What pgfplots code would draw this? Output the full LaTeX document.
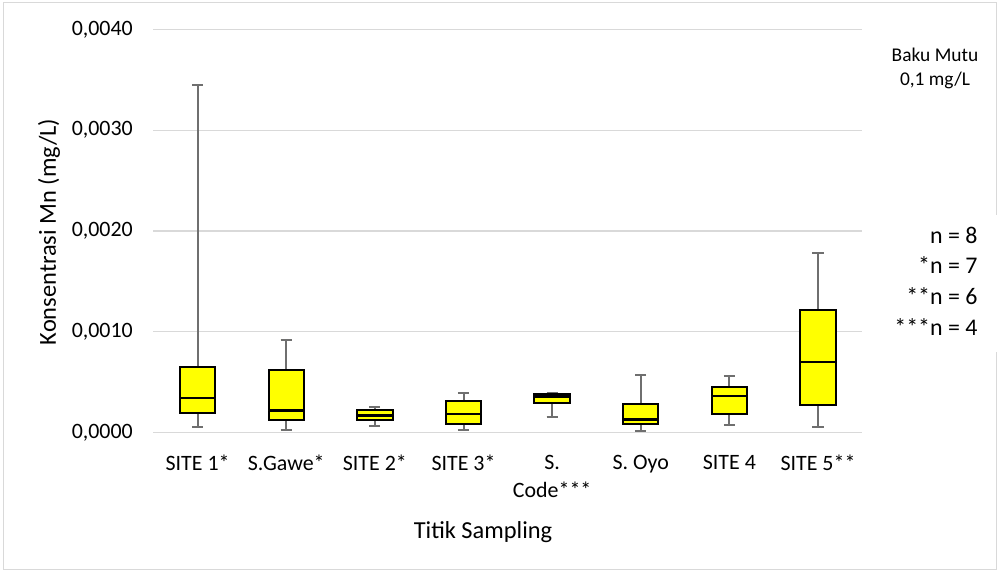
\documentclass[border=0pt]{standalone}
\usepackage{fontspec}
\setmainfont{Carlito}
\usepackage{pgfplots}
\pgfplotsset{compat=1.18}
\usepgfplotslibrary{statistics}

\definecolor{gridgray}{HTML}{D9D9D9}
\definecolor{whiskgray}{HTML}{6F6F6F}
\definecolor{boxyellow}{HTML}{FFFF00}

% five-number summaries in ug/L (= mg/L x 1000):
% lower whisker, Q1, median, Q3, upper whisker
\newcommand{\mnbox}[6]{%
  \addplot[draw=black, fill=boxyellow, line width=2bp,
    boxplot prepared={draw position=#1,
      lower whisker=#2, lower quartile=#3, median=#4,
      upper quartile=#5, upper whisker=#6}] coordinates {};}

\begin{document}
\begin{tikzpicture}[x=1bp,y=1bp]
\useasboundingbox (0,0) rectangle (997,571);
% chart frame
\draw[gridgray, line width=1bp] (3.5,1) rectangle (996,568);
\begin{axis}[
  at={(173,137.5)}, anchor=south west,
  scale only axis, width=709bp, height=403bp,
  xmin=0.5, xmax=8.5, ymin=0, ymax=4,
  xtick={1,...,8},
  xticklabels={SITE 1*, S.Gawe*, SITE 2*, SITE 3*, {S.\\Code***}, S. Oyo, SITE 4, SITE 5**},
  ytick={0,1,2,3,4},
  yticklabels={{0,0000}, {0,0010}, {0,0020}, {0,0030}, {0,0040}},
  every tick label/.append style={font=\fontsize{22}{28}\selectfont},
  xticklabel style={align=center, anchor=north, yshift=-19bp},
  yticklabel style={anchor=east, xshift=-17bp},
  axis line style={draw=none},
  major tick length=0pt,
  ymajorgrids,
  grid style={gridgray, line width=1.2bp},
  boxplot/draw direction=y,
  boxplot/box extend=0.4,
  boxplot/whisker extend=0.125,
  boxplot/every median/.style={draw=black, line width=2.4bp},
  boxplot/every whisker/.style={draw=whiskgray, line width=2bp},
  clip=false,
]
\mnbox{1}{0.0566}{0.195}{0.340}{0.648}{3.444}
\mnbox{2}{0.0200}{0.126}{0.218}{0.622}{0.920}
\mnbox{3}{0.0629}{0.119}{0.169}{0.222}{0.248}
\mnbox{4}{0.0230}{0.0794}{0.185}{0.311}{0.394}
\mnbox{5}{0.156}{0.291}{0.357}{0.380}{0.390}
\mnbox{6}{0.0166}{0.0824}{0.129}{0.281}{0.569}
\mnbox{7}{0.0728}{0.179}{0.360}{0.447}{0.563}
\mnbox{8}{0.0496}{0.271}{0.698}{1.211}{1.777}
\end{axis}
% axis titles
\node[font=\fontsize{24.5}{29}\selectfont] at (483,39) {Titik Sampling};
\node[font=\fontsize{24.5}{29}\selectfont, rotate=90] at (49,339) {Konsentrasi Mn (mg/L)};
% standard note
\node[font=\fontsize{19.5}{24}\selectfont, align=center] at (935,503) {Baku Mutu\\0,1 mg/L};
% sample sizes
\fill[white] (880,219) rectangle (997,356);
\node[font=\fontsize{24}{30.7}\selectfont, align=right, anchor=east] at (981,290) {n = 8\\*n = 7\\**n = 6\\***n = 4};
\end{tikzpicture}
\end{document}
